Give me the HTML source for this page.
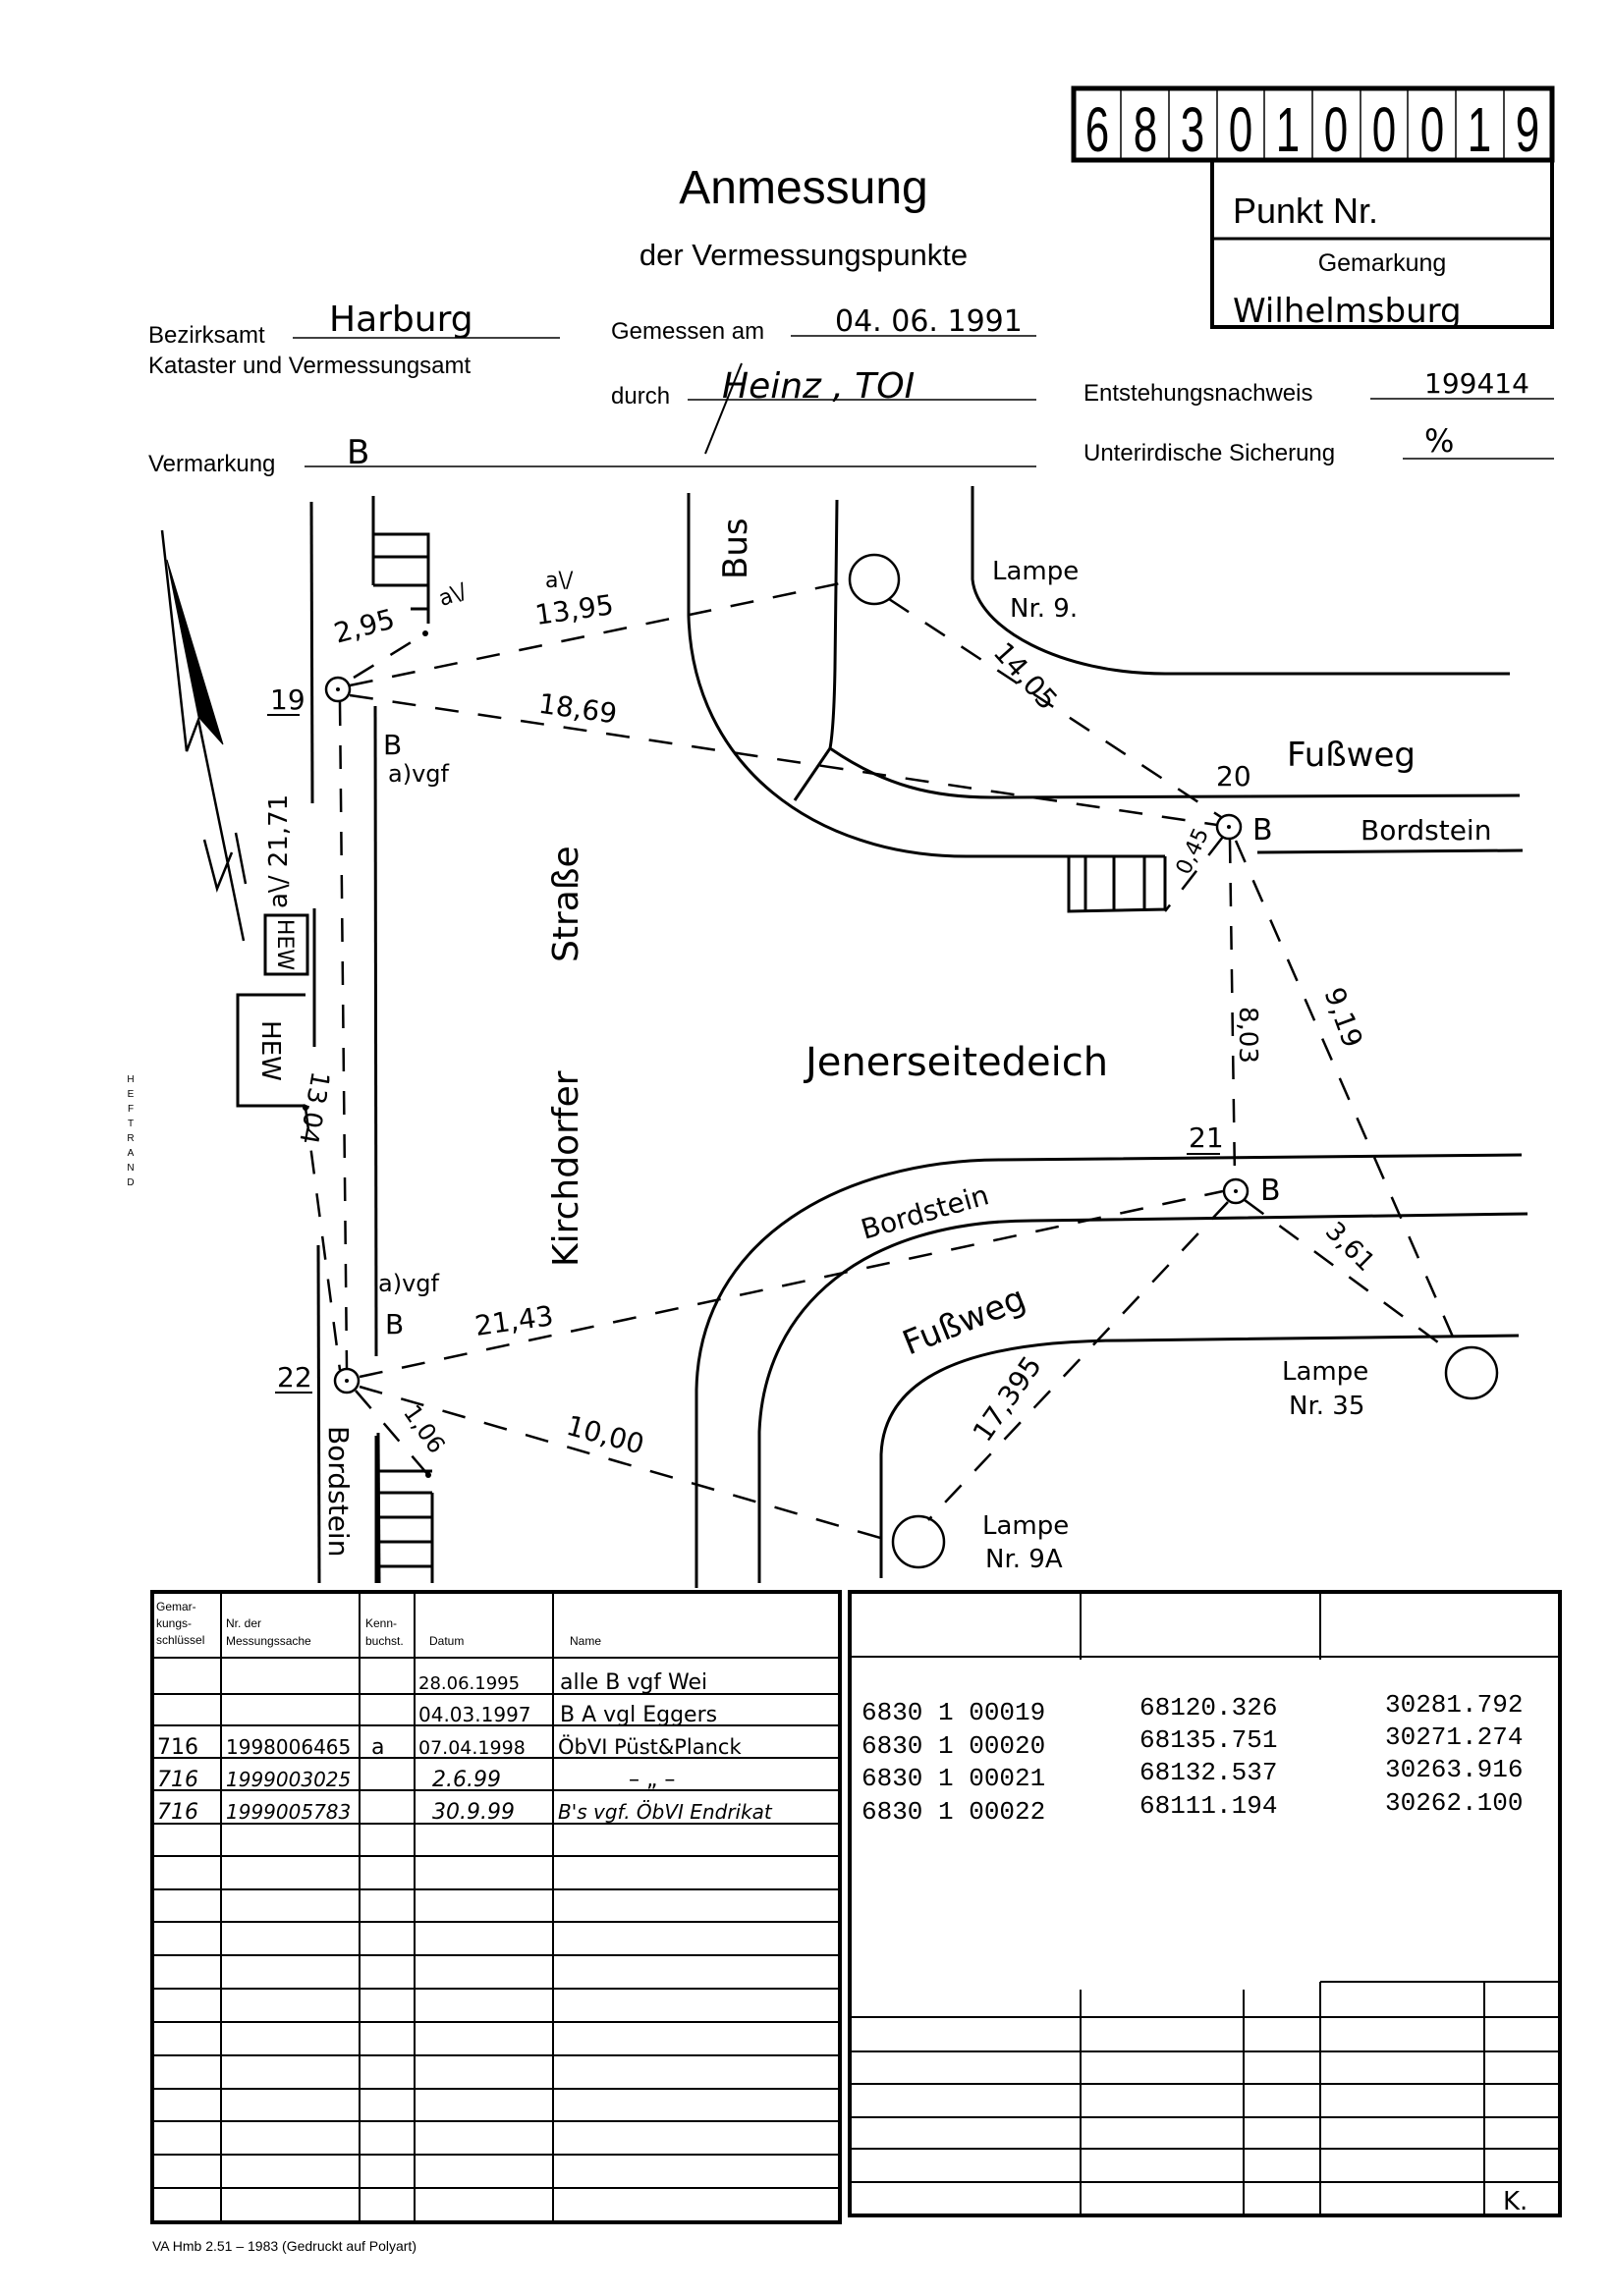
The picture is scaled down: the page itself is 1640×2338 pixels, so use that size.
<!DOCTYPE html>
<html><head><meta charset="utf-8"><style>
html,body{margin:0;padding:0;background:#fff}
svg{display:block}
.p{font-family:"Liberation Sans",sans-serif;fill:#000}
.h{font-family:"DejaVu Sans","Liberation Sans",sans-serif;fill:#000;font-weight:normal}
.m{font-family:"Liberation Mono",monospace;fill:#000}
</style></head><body>
<svg width="1640" height="2338" viewBox="0 0 1640 2338" xmlns="http://www.w3.org/2000/svg">
<g stroke="#000" fill="none" stroke-width="3">
<rect x="1093" y="90" width="487" height="73" stroke-width="5"/>
<g stroke-width="1.5">
<line x1="1141" y1="92" x2="1141" y2="161"/><line x1="1190" y1="92" x2="1190" y2="161"/><line x1="1239" y1="92" x2="1239" y2="161"/><line x1="1287" y1="92" x2="1287" y2="161"/><line x1="1336" y1="92" x2="1336" y2="161"/><line x1="1385" y1="92" x2="1385" y2="161"/><line x1="1433" y1="92" x2="1433" y2="161"/><line x1="1482" y1="92" x2="1482" y2="161"/><line x1="1531" y1="92" x2="1531" y2="161"/>
</g>
<rect x="1234" y="163" width="346" height="170" stroke-width="4"/>
<line x1="1234" y1="243" x2="1580" y2="243"/>
<g stroke-width="1.5">
<line x1="298" y1="344" x2="570" y2="344"/><line x1="805" y1="342" x2="1055" y2="342"/>
<line x1="700" y1="407" x2="1055" y2="407"/><line x1="1395" y1="406" x2="1582" y2="406"/>
<line x1="310" y1="475" x2="1055" y2="475"/><line x1="1428" y1="467" x2="1582" y2="467"/>
</g>
<path d="M755,370 L718,462" stroke-width="2"/>
<line x1="317" y1="511" x2="318" y2="818"/>
<line x1="320" y1="925" x2="320" y2="1066"/>
<line x1="324" y1="1268" x2="325" y2="1612"/>
<line x1="382" y1="719" x2="383" y2="1381"/>
<line x1="385" y1="1459" x2="386" y2="1612"/>
<path d="M380,505 L380,596 M380,544 L436,544 L436,635 M380,567 L436,567 M380,596 L436,596 M418,620 L436,620"/>
<path d="M383,1462 L383,1612 M383,1498 L440,1498 M383,1520 L440,1520 M383,1545 L440,1545 M383,1570 L440,1570 M383,1595 L440,1595 M440,1520 L440,1612"/>
<rect x="270" y="932" width="43" height="60"/>
<path d="M311,1013 L242,1013 L242,1126 L311,1126"/>
<path d="M165,540 L190,765 L202,733 L248,958" stroke-width="2.5"/>
<polygon points="170,570 227,758 202,730" fill="#000" stroke-width="1"/>
<path d="M208,855 L221,905 L236,868 M240,848 L250,900" stroke-width="2.5"/>
<path d="M701,502 L701,627 C705,780 830,872 984,872 L1186,872"/>
<path d="M1280,868 L1550,866"/>
<path d="M852,509 L850,680 Q849,740 845,762 C900,800 950,812 1010,812 L1547,810"/>
<path d="M845,762 L809,815"/>
<path d="M990,495 L990,590 C995,640 1080,686 1186,686 L1537,686"/>
<path d="M1088,872 L1088,928 L1186,926 L1186,872 M1105,872 L1105,928 M1134,872 L1134,928 M1165,872 L1165,928"/>
<path d="M709,1617 L709,1415 C712,1260 860,1181 1019,1181 L1549,1176"/>
<path d="M773,1612 L773,1458 C778,1330 880,1243 1051,1243 L1555,1236"/>
<path d="M897,1607 L897,1481 C900,1400 990,1365 1144,1365 L1546,1360"/>
<g stroke-width="2.5">
<circle cx="344" cy="702" r="12"/><circle cx="1251" cy="842" r="12"/><circle cx="1258" cy="1213" r="12"/><circle cx="353" cy="1406" r="12"/>
<circle cx="890" cy="590" r="25"/><circle cx="1498" cy="1398" r="26"/><circle cx="935" cy="1570" r="26"/>
</g>
<g stroke-dasharray="24,20" stroke-width="2.5">
<line x1="356" y1="698" x2="865" y2="592"/>
<line x1="356" y1="708" x2="1239" y2="840"/>
<line x1="360" y1="690" x2="433" y2="645"/>
<line x1="346" y1="715" x2="353" y2="1393"/>
<line x1="311" y1="1128" x2="346" y2="1395"/>
<line x1="905" y1="610" x2="1243" y2="832"/>
<line x1="1245" y1="852" x2="1186" y2="928"/>
<line x1="1252" y1="855" x2="1257" y2="1200"/>
<line x1="1258" y1="856" x2="1485" y2="1375"/>
<line x1="1267" y1="1222" x2="1475" y2="1375"/>
<line x1="1250" y1="1224" x2="945" y2="1548"/>
<line x1="366" y1="1402" x2="1245" y2="1213"/>
<line x1="366" y1="1412" x2="910" y2="1570"/>
<line x1="362" y1="1416" x2="436" y2="1502"/>
</g>
<rect x="155" y="1621" width="700" height="642" stroke-width="4"/>
<g stroke-width="2">
<line x1="155" y1="1688" x2="855" y2="1688"/>
<line x1="225" y1="1621" x2="225" y2="2263"/><line x1="366" y1="1621" x2="366" y2="2263"/><line x1="422" y1="1621" x2="422" y2="2263"/><line x1="563" y1="1621" x2="563" y2="2263"/>
<path d="M155,1725H855M155,1757H855M155,1790H855M155,1823H855M155,1857H855M155,1890H855M155,1924H855M155,1957H855M155,1991H855M155,2025H855M155,2059H855M155,2093H855M155,2127H855M155,2160H855M155,2194H855M155,2228H855"/>
</g>
<rect x="865" y="1621" width="723" height="635" stroke-width="4"/>
<g stroke-width="2">
<line x1="865" y1="1687" x2="1588" y2="1687"/>
<line x1="1100" y1="1621" x2="1100" y2="1690"/><line x1="1344" y1="1621" x2="1344" y2="1690"/>
<line x1="1344" y1="2018" x2="1588" y2="2018"/>
<line x1="1100" y1="2026" x2="1100" y2="2256"/><line x1="1266" y1="2026" x2="1266" y2="2256"/><line x1="1344" y1="2018" x2="1344" y2="2256"/><line x1="1511" y1="2018" x2="1511" y2="2256"/>
<path d="M865,2054H1588M865,2089H1588M865,2122H1588M865,2156H1588M865,2188H1588M865,2222H1588"/>
</g>
</g>
<g fill="#000"><circle cx="344" cy="702" r="2"/><circle cx="1251" cy="842" r="2"/><circle cx="1258" cy="1213" r="2"/><circle cx="353" cy="1406" r="2"/><circle cx="433" cy="645" r="3"/><circle cx="311" cy="1128" r="3"/><circle cx="436" cy="1502" r="3"/></g>

<g class="p">
<g font-size="44" text-anchor="middle" transform="translate(0 154) scale(1 1.45) translate(0 -154)">
<text x="1117" y="154">6</text><text x="1166" y="154">8</text><text x="1214" y="154">3</text><text x="1263" y="154">0</text><text x="1311" y="154">1</text><text x="1360" y="154">0</text><text x="1409" y="154">0</text><text x="1458" y="154">0</text><text x="1506" y="154">1</text><text x="1555" y="154">9</text>
</g>
<text x="1255" y="227" font-size="36">Punkt Nr.</text>
<text x="1407" y="276" font-size="25" text-anchor="middle">Gemarkung</text>
<text x="818" y="207" font-size="48" text-anchor="middle">Anmessung</text>
<text x="818" y="270" font-size="31" text-anchor="middle">der Vermessungspunkte</text>
<text x="151" y="349" font-size="24">Bezirksamt</text>
<text x="151" y="380" font-size="24">Kataster und Vermessungsamt</text>
<text x="622" y="345" font-size="24">Gemessen am</text>
<text x="622" y="411" font-size="24">durch</text>
<text x="1103" y="408" font-size="24">Entstehungsnachweis</text>
<text x="151" y="480" font-size="24">Vermarkung</text>
<text x="1103" y="469" font-size="24">Unterirdische Sicherung</text>
<text x="155" y="2292" font-size="14">VA Hmb 2.51 – 1983 (Gedruckt auf Polyart)</text>
</g>
<g class="h">
<text x="1255" y="328" font-size="34">Wilhelmsburg</text>
<text x="335" y="337" font-size="36">Harburg</text>
<text x="850" y="337" font-size="30">04. 06. 1991</text>
<text x="735" y="405" font-size="36" font-style="italic">Heinz , TOI</text>
<text x="1450" y="400" font-size="28">199414</text>
<text x="353" y="472" font-size="34">B</text>
<text x="1450" y="460" font-size="32">%</text>
</g>
<g class="p" font-size="10" text-anchor="middle">
<text x="133" y="1102">H</text><text x="133" y="1117">E</text><text x="133" y="1132">F</text><text x="133" y="1147">T</text><text x="133" y="1162">R</text><text x="133" y="1177">A</text><text x="133" y="1192">N</text><text x="133" y="1207">D</text>
</g>
<g class="h" font-size="28">
<text x="275" y="722">19</text><line x1="272" y1="728" x2="305" y2="728" stroke="#000" stroke-width="2"/>
<text x="340" y="650" transform="rotate(-15 360 640)">2,95</text>
<text x="447" y="615" font-size="22" transform="rotate(-20 455 608)">a\/</text>
<text x="555" y="598" font-size="22">a\/</text>
<text x="545" y="632" transform="rotate(-8 575 625)">13,95</text>
<text x="548" y="730" transform="rotate(8 580 722)">18,69</text>
<text x="390" y="768">B</text>
<text x="395" y="796" font-size="24">a)vgf</text>
<text x="0" y="0" font-size="26" transform="translate(292 925) rotate(-90)">a\/ 21,71</text>
<text x="0" y="8" font-size="22" text-anchor="middle" transform="translate(291 962) rotate(90)">HEW</text>
<text x="0" y="9" font-size="26" text-anchor="middle" transform="translate(276 1070) rotate(90)">HEW</text>
<text x="0" y="0" font-size="26" transform="translate(318 1090) rotate(100)">13,04</text>
<text x="0" y="0" font-size="36" transform="translate(588 980) rotate(-90)">Straße</text>
<text x="0" y="0" font-size="36" transform="translate(588 1290) rotate(-90)">Kirchdorfer</text>
<text x="0" y="0" font-size="34" transform="translate(760 590) rotate(-90)">Bus</text>
<text x="820" y="1095" font-size="40">Jenerseitedeich</text>
<text x="1010" y="590" font-size="26">Lampe</text>
<text x="1028" y="628" font-size="26">Nr. 9.</text>
<text x="0" y="0" transform="translate(1010 665) rotate(48)">14,05</text>
<text x="1310" y="780" font-size="34">Fußweg</text>
<text x="1238" y="800">20</text>
<text x="1275" y="855" font-size="30">B</text>
<text x="1385" y="855" font-size="28">Bordstein</text>
<text x="0" y="0" font-size="22" transform="translate(1210 892) rotate(-65)">0,45</text>
<text x="0" y="0" font-size="26" transform="translate(1262 1025) rotate(90)">8,03</text>
<text x="0" y="0" transform="translate(1348 1010) rotate(70)">9,19</text>
<text x="1210" y="1168">21</text><line x1="1208" y1="1175" x2="1242" y2="1175" stroke="#000" stroke-width="2"/>
<text x="1283" y="1222" font-size="30">B</text>
<text x="0" y="0" font-size="28" transform="translate(880 1262) rotate(-16)">Bordstein</text>
<text x="0" y="0" font-size="26" transform="translate(1348 1255) rotate(45)">3,61</text>
<text x="0" y="0" font-size="34" transform="translate(925 1380) rotate(-22)">Fußweg</text>
<text x="0" y="0" transform="translate(1005 1470) rotate(-55)">17,395</text>
<text x="1305" y="1405" font-size="26">Lampe</text>
<text x="1312" y="1440" font-size="26">Nr. 35</text>
<text x="1000" y="1562" font-size="26">Lampe</text>
<text x="1003" y="1596" font-size="26">Nr. 9A</text>
<text x="385" y="1315" font-size="24">a)vgf</text>
<text x="392" y="1358">B</text>
<text x="0" y="0" transform="translate(485 1360) rotate(-8)">21,43</text>
<text x="282" y="1412">22</text><line x1="280" y1="1418" x2="318" y2="1418" stroke="#000" stroke-width="2"/>
<text x="0" y="0" font-size="24" transform="translate(410 1438) rotate(55)">1,06</text>
<text x="0" y="0" transform="translate(575 1460) rotate(15)">10,00</text>
<text x="0" y="0" transform="translate(335 1452) rotate(90)">Bordstein</text>
</g>
<g class="p" font-size="12">
<text x="159" y="1640">Gemar-</text><text x="159" y="1657">kungs-</text><text x="159" y="1674">schlüssel</text>
<text x="230" y="1657">Nr. der</text><text x="230" y="1675">Messungssache</text>
<text x="372" y="1657">Kenn-</text><text x="372" y="1675">buchst.</text>
<text x="437" y="1675">Datum</text><text x="580" y="1675">Name</text>
</g>
<g class="h" font-size="22">
<text x="426" y="1720" font-size="18">28.06.1995</text><text x="570" y="1720">alle B vgf Wei</text>
<text x="426" y="1753" font-size="20">04.03.1997</text><text x="570" y="1753">B A vgl Eggers</text>
<text x="160" y="1786">716</text><text x="230" y="1786" font-size="20">1998006465</text><text x="378" y="1786">a</text><text x="426" y="1786" font-size="19">07.04.1998</text><text x="568" y="1786" font-size="21">ÖbVI Püst&amp;Planck</text>
<text x="160" y="1819" font-style="italic">716</text><text x="230" y="1819" font-style="italic" font-size="20">1999003025</text><text x="440" y="1819" font-style="italic">2.6.99</text><text x="640" y="1819">– „ –</text>
<text x="160" y="1852" font-style="italic">716</text><text x="230" y="1852" font-style="italic" font-size="20">1999005783</text><text x="440" y="1852" font-style="italic">30.9.99</text><text x="568" y="1852" font-style="italic" font-size="20">B's vgf. ÖbVI Endrikat</text>
</g>
<g class="m" font-size="26">
<text x="877" y="1751">6830 1 00019</text><text x="1160" y="1746">68120.326</text><text x="1410" y="1743">30281.792</text>
<text x="877" y="1785">6830 1 00020</text><text x="1160" y="1779">68135.751</text><text x="1410" y="1776">30271.274</text>
<text x="877" y="1818">6830 1 00021</text><text x="1160" y="1812">68132.537</text><text x="1410" y="1809">30263.916</text>
<text x="877" y="1852">6830 1 00022</text><text x="1160" y="1846">68111.194</text><text x="1410" y="1843">30262.100</text>
</g>
<text class="h" x="1530" y="2250" font-size="26">K.</text>
</svg>
</body></html>
